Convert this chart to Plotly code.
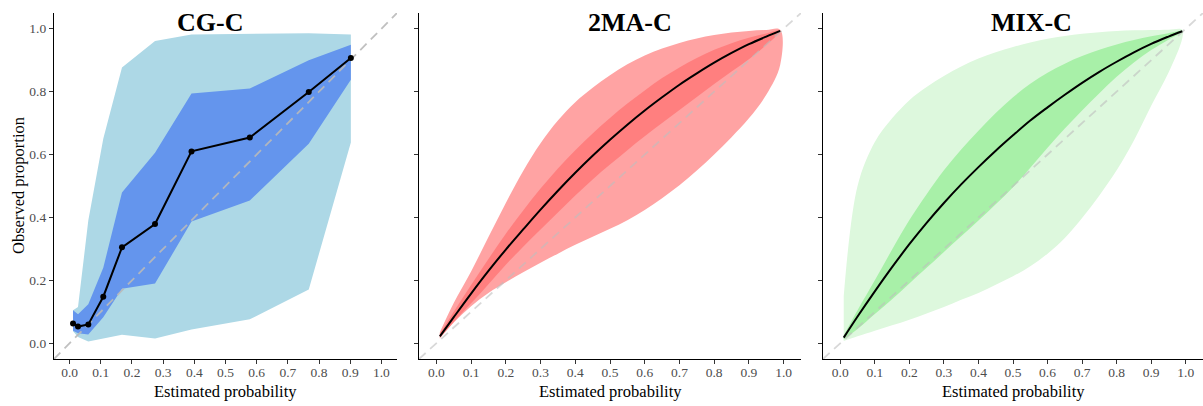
import plotly.graph_objects as go

# ---------------- data ----------------
# Panel 1: CG-C
cg_x = [0.011, 0.027, 0.060, 0.108, 0.168, 0.274, 0.391, 0.578, 0.767, 0.902]
cg_y = [0.063, 0.053, 0.060, 0.148, 0.305, 0.379, 0.610, 0.654, 0.799, 0.907]
cg_inner_hi = [0.105, 0.092, 0.124, 0.240, 0.479, 0.606, 0.794, 0.810, 0.900, 0.949]
cg_inner_lo = [0.040, 0.032, 0.028, 0.083, 0.173, 0.190, 0.387, 0.454, 0.634, 0.838]
cg_outer_hi = [0.105, 0.115, 0.390, 0.650, 0.877, 0.961, 0.982, 0.984, 0.986, 0.982]
cg_outer_lo = [0.038, 0.020, 0.006, 0.014, 0.027, 0.015, 0.044, 0.076, 0.171, 0.638]

# Panels 2 and 3 share the probability grid
grid_x = [0.01, 0.05, 0.10, 0.15, 0.20, 0.25, 0.30, 0.35, 0.40, 0.45, 0.50,
          0.55, 0.60, 0.65, 0.70, 0.75, 0.80, 0.85, 0.90, 0.95, 0.99]

# Panel 2: 2MA-C
ma_y = [0.022, 0.083, 0.158, 0.230, 0.298, 0.362, 0.425, 0.485, 0.542, 0.596, 0.647,
        0.695, 0.740, 0.782, 0.822, 0.858, 0.892, 0.923, 0.951, 0.975, 0.993]
ma_inner_hi = [0.030, 0.100, 0.185, 0.268, 0.348, 0.422, 0.492, 0.556, 0.614, 0.667, 0.716,
               0.762, 0.804, 0.843, 0.877, 0.907, 0.933, 0.954, 0.971, 0.985, 0.995]
ma_inner_lo = [0.018, 0.068, 0.127, 0.188, 0.250, 0.307, 0.362, 0.416, 0.470, 0.521, 0.568,
               0.614, 0.658, 0.700, 0.742, 0.783, 0.824, 0.864, 0.903, 0.948, 0.990]
ma_outer_hi = [0.035, 0.128, 0.228, 0.338, 0.446, 0.548, 0.636, 0.708, 0.766, 0.812, 0.852,
               0.887, 0.915, 0.937, 0.955, 0.969, 0.980, 0.988, 0.993, 0.996, 0.997]
ma_outer_lo = [0.015, 0.066, 0.118, 0.160, 0.194, 0.226, 0.256, 0.285, 0.313, 0.339, 0.364,
               0.391, 0.424, 0.461, 0.502, 0.549, 0.600, 0.655, 0.715, 0.790, 0.885]

# Panel 3: MIX-C
mix_y = [0.018, 0.085, 0.165, 0.242, 0.315, 0.383, 0.446, 0.505, 0.560, 0.612, 0.661,
         0.708, 0.750, 0.790, 0.828, 0.863, 0.895, 0.925, 0.952, 0.975, 0.992]
mix_inner_hi = [0.025, 0.105, 0.200, 0.298, 0.392, 0.474, 0.550, 0.616, 0.676, 0.732, 0.782,
                0.825, 0.860, 0.889, 0.913, 0.933, 0.950, 0.964, 0.976, 0.986, 0.993]
mix_inner_lo = [0.012, 0.045, 0.093, 0.140, 0.190, 0.240, 0.290, 0.340, 0.390, 0.442, 0.496,
                0.558, 0.622, 0.683, 0.740, 0.795, 0.847, 0.893, 0.932, 0.965, 0.990]
mix_outer_hi = [0.150, 0.500, 0.640, 0.715, 0.773, 0.815, 0.850, 0.880, 0.905, 0.925, 0.942,
                0.956, 0.968, 0.977, 0.984, 0.989, 0.993, 0.995, 0.996, 0.997, 0.997]
mix_outer_lo = [0.007, 0.022, 0.040, 0.057, 0.075, 0.095, 0.115, 0.138, 0.160, 0.186, 0.213,
                0.245, 0.285, 0.335, 0.398, 0.470, 0.550, 0.645, 0.755, 0.860, 0.970]

titles = ["CG-C", "2MA-C", "MIX-C"]
x_ticks = [0.0, 0.1, 0.2, 0.3, 0.4, 0.5, 0.6, 0.7, 0.8, 0.9, 1.0]
y_ticks = [0.0, 0.2, 0.4, 0.6, 0.8, 1.0]
x_title = "Estimated probability"
y_title = "Observed proportion"

# ---------------- figure ----------------
W, H = 1203, 406
FONT = "Liberation Serif, Times New Roman, serif"
fig = go.Figure()


def band(xs, hi, lo, color, ax, shape):
    fig.add_trace(go.Scatter(
        x=list(xs) + list(xs)[::-1], y=list(hi) + list(lo)[::-1],
        fill="toself", fillcolor=color, mode="lines",
        line=dict(width=0, color=color, shape=shape),
        xaxis=ax[0], yaxis=ax[1], showlegend=False, hoverinfo="skip"))


def diag(ax, color):
    fig.add_trace(go.Scatter(
        x=[-0.05, 1.05], y=[-0.05, 1.05], mode="lines",
        line=dict(color=color, width=1.8, dash="9px,6px"),
        xaxis=ax[0], yaxis=ax[1], showlegend=False, hoverinfo="skip"))


axes = [("x", "y"), ("x2", "y2"), ("x3", "y3")]

# Panel 1
band(cg_x, cg_outer_hi, cg_outer_lo, "#ADD8E6", axes[0], "linear")
band(cg_x, cg_inner_hi, cg_inner_lo, "#6495ED", axes[0], "linear")
diag(axes[0], "rgba(185,185,185,0.9)")
fig.add_trace(go.Scatter(x=cg_x, y=cg_y, mode="lines+markers",
                         line=dict(color="black", width=2),
                         marker=dict(color="black", size=6),
                         xaxis="x", yaxis="y", showlegend=False))

# Panel 2
band(grid_x, ma_outer_hi, ma_outer_lo, "#FFA3A3", axes[1], "spline")
band(grid_x, ma_inner_hi, ma_inner_lo, "#FF7F7F", axes[1], "spline")
diag(axes[1], "rgba(190,190,190,0.6)")
fig.add_trace(go.Scatter(x=grid_x, y=ma_y, mode="lines",
                         line=dict(color="black", width=2, shape="spline"),
                         xaxis="x2", yaxis="y2", showlegend=False))

# Panel 3
band(grid_x, mix_outer_hi, mix_outer_lo, "#DDF8DD", axes[2], "spline")
band(grid_x, mix_inner_hi, mix_inner_lo, "#A8F0A8", axes[2], "spline")
diag(axes[2], "rgba(190,190,190,0.6)")
fig.add_trace(go.Scatter(x=grid_x, y=mix_y, mode="lines",
                         line=dict(color="black", width=2, shape="spline"),
                         xaxis="x3", yaxis="y3", showlegend=False))

# layout (pixel-based domains)
x_dom = [(54, 397), (419, 801), (823, 1203)]
y_dom = [(H - 359) / H, (H - 13) / H]

axis_common = dict(range=[-0.05, 1.05], showgrid=False, zeroline=False,
                   showline=True, linecolor="black", linewidth=1.3,
                   ticks="outside", ticklen=4, tickwidth=1, tickcolor="#333333",
                   tickfont=dict(family=FONT, size=13.5, color="#4D4D4D"),
                   fixedrange=True)

layout = dict(width=W, height=H, margin=dict(l=0, r=0, t=0, b=0),
              paper_bgcolor="white", plot_bgcolor="white", showlegend=False)

for i, (a, b) in enumerate(x_dom):
    sx = "xaxis" if i == 0 else f"xaxis{i+1}"
    sy = "yaxis" if i == 0 else f"yaxis{i+1}"
    yname = "y" if i == 0 else f"y{i+1}"
    xname = "x" if i == 0 else f"x{i+1}"
    layout[sx] = dict(axis_common, domain=[a / W, min(b / W, 1.0)],
                      tickvals=x_ticks, ticktext=[f"{v:.1f}" for v in x_ticks],
                      anchor=yname, ticklabelstandoff=-3)
    layout[sy] = dict(axis_common, domain=list(y_dom), anchor=xname,
                      tickvals=y_ticks,
                      ticktext=[f"{v:.1f}" for v in y_ticks] if i == 0 else [""] * len(y_ticks))

annotations = []
title_px = [210, 630, 1031]
for t, px in zip(titles, title_px):
    annotations.append(dict(text=f"<b>{t}</b>", x=px / W, y=1 - 22 / H,
                            xref="paper", yref="paper", showarrow=False,
                            xanchor="center", yanchor="middle",
                            font=dict(family=FONT, size=26, color="black")))
for (a, b) in x_dom:
    annotations.append(dict(text=x_title, x=((a + b) / 2) / W, y=1 - 391 / H,
                            xref="paper", yref="paper", showarrow=False,
                            xanchor="center", yanchor="middle",
                            font=dict(family=FONT, size=16.5, color="black")))
annotations.append(dict(text=y_title, x=18 / W, y=1 - 186 / H,
                        xref="paper", yref="paper", showarrow=False, textangle=-90,
                        xanchor="center", yanchor="middle",
                        font=dict(family=FONT, size=16.5, color="black")))
layout["annotations"] = annotations

fig.update_layout(**layout)
fig.write_html("out.html")
